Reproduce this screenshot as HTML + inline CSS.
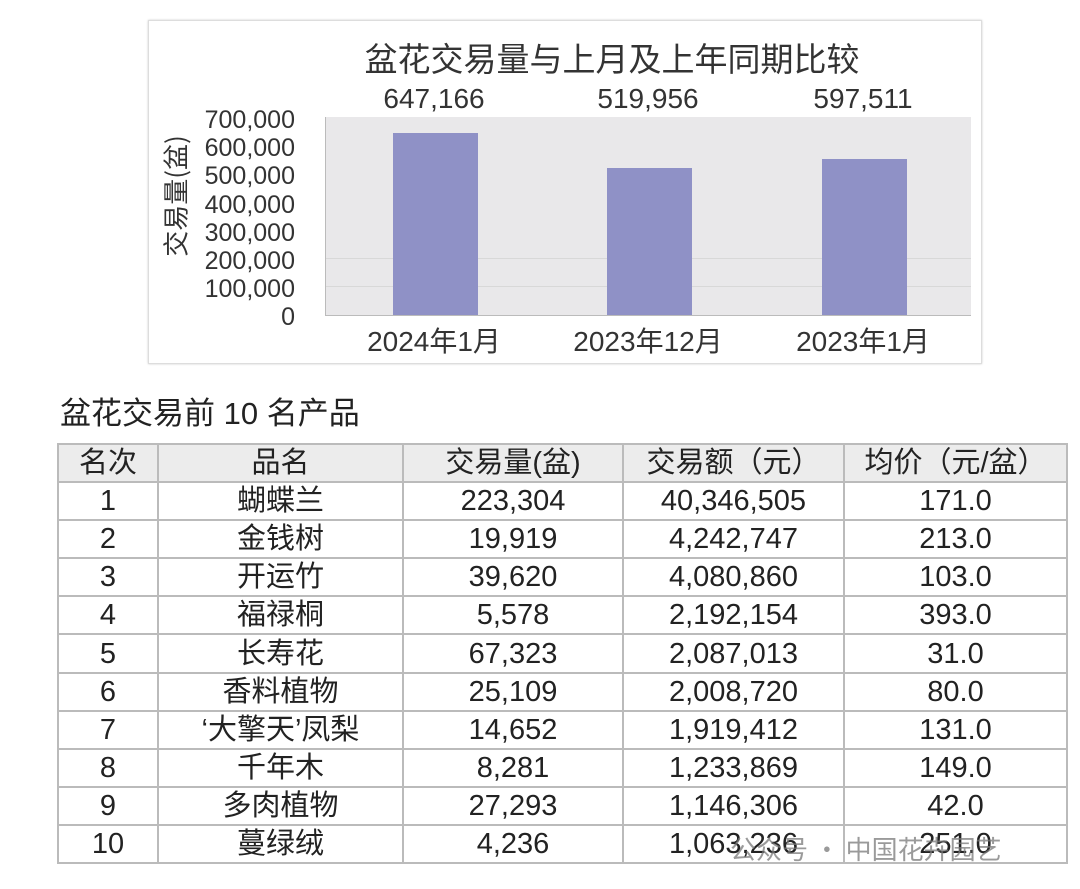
<!DOCTYPE html>
<html><head><meta charset="utf-8"><style>
body{margin:0;width:1080px;height:889px;background:#fff;font-family:"Liberation Sans Narrow","Liberation Sans","Noto Sans CJK SC",sans-serif;color:#222;position:relative;overflow:hidden}
.abs{position:absolute}
.box{left:148px;top:20px;width:832px;height:342px;border:1px solid #ddd;box-shadow:0 0 2px #ccc}
.plot{left:325px;top:117px;width:645px;height:198px;background:#e9e8ea;border-left:1px solid #bbb;border-bottom:1px solid #bbb}
.bar{background:#8f91c6;width:85px;bottom:0}
.yl{right:785px;font-size:25px;text-align:right;width:120px;line-height:24px;color:#333}
.xl{font-size:28px;width:220px;text-align:center;top:320px;color:#333}
.vl{font-size:28px;width:200px;text-align:center;top:83px;color:#333}
table{position:absolute;left:57px;top:443px;border-collapse:collapse;font-size:29px;font-family:"Liberation Sans Narrow","Liberation Sans","Noto Sans CJK SC",sans-serif}
td{border:2px solid #bbb;height:36.1px;padding:0;text-align:center;line-height:34px;color:#222}
tr.h td{background:#ececec}
</style></head><body>
<div class="abs box"></div>
<div class="abs" style="left:196px;top:33px;width:832px;text-align:center;font-size:33px;font-family:'Noto Sans CJK SC',sans-serif;color:#333">盆花交易量与上月及上年同期比较</div>
<div class="abs plot">
<div class="abs" style="left:0;right:0;top:141px;border-top:1px solid #d8d8d8"></div>
<div class="abs" style="left:0;right:0;top:169px;border-top:1px solid #d8d8d8"></div>
<div class="abs bar" style="left:67px;height:182px"></div>
<div class="abs bar" style="left:281px;height:147px"></div>
<div class="abs bar" style="left:496px;height:156px"></div>
</div>
<div class="abs yl" style="top:108px">700,000</div>
<div class="abs yl" style="top:136px">600,000</div>
<div class="abs yl" style="top:164px">500,000</div>
<div class="abs yl" style="top:193px">400,000</div>
<div class="abs yl" style="top:221px">300,000</div>
<div class="abs yl" style="top:249px">200,000</div>
<div class="abs yl" style="top:277px">100,000</div>
<div class="abs yl" style="top:305px">0</div>
<div class="abs" style="left:175px;top:196px;transform:translate(-50%,-50%) rotate(-90deg);font-size:26px;white-space:nowrap;font-family:'Noto Sans CJK SC',sans-serif;color:#333">交易量(盆)</div>
<div class="abs vl" style="left:334px">647,166</div>
<div class="abs vl" style="left:548px">519,956</div>
<div class="abs vl" style="left:763px">597,511</div>
<div class="abs xl" style="left:324px">2024年1月</div>
<div class="abs xl" style="left:538px">2023年12月</div>
<div class="abs xl" style="left:753px">2023年1月</div>
<div class="abs" style="left:60px;top:388px;font-size:31px;font-family:'Liberation Sans','Noto Sans CJK SC',sans-serif">盆花交易前 10 名产品</div>
<table>
<colgroup><col style="width:100px"><col style="width:245px"><col style="width:220px"><col style="width:221px"><col style="width:223px"></colgroup>
<tr class="h"><td>名次</td><td>品名</td><td>交易量(盆)</td><td>交易额（元）</td><td>均价（元/盆）</td></tr>
<tr><td>1</td><td>蝴蝶兰</td><td>223,304</td><td>40,346,505</td><td>171.0</td></tr>
<tr><td>2</td><td>金钱树</td><td>19,919</td><td>4,242,747</td><td>213.0</td></tr>
<tr><td>3</td><td>开运竹</td><td>39,620</td><td>4,080,860</td><td>103.0</td></tr>
<tr><td>4</td><td>福禄桐</td><td>5,578</td><td>2,192,154</td><td>393.0</td></tr>
<tr><td>5</td><td>长寿花</td><td>67,323</td><td>2,087,013</td><td>31.0</td></tr>
<tr><td>6</td><td>香料植物</td><td>25,109</td><td>2,008,720</td><td>80.0</td></tr>
<tr><td>7</td><td>‘大擎天’凤梨</td><td>14,652</td><td>1,919,412</td><td>131.0</td></tr>
<tr><td>8</td><td>千年木</td><td>8,281</td><td>1,233,869</td><td>149.0</td></tr>
<tr><td>9</td><td>多肉植物</td><td>27,293</td><td>1,146,306</td><td>42.0</td></tr>
<tr><td>10</td><td>蔓绿绒</td><td>4,236</td><td>1,063,236</td><td>251.0</td></tr>
</table>
<div class="abs" style="left:730px;top:830px;font-size:26px;color:rgba(120,120,120,0.75);font-family:'Noto Sans CJK SC',sans-serif">公众号 · 中国花卉园艺</div>
</body></html>
